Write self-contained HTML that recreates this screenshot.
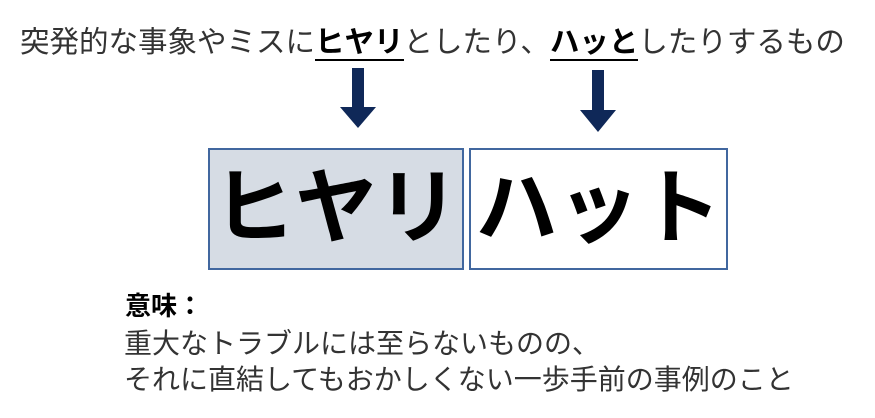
<!DOCTYPE html>
<html><head><meta charset="utf-8"><style>
body{margin:0;width:875px;height:418px;background:#fff;position:relative;overflow:hidden;font-family:"Liberation Sans","Noto Sans CJK JP",sans-serif;}
.t{position:absolute;white-space:nowrap;}
.top{left:20px;top:23px;font-size:29.5px;color:#333;line-height:40px;}
.top b{color:#000;border-bottom:2px solid #000;}
.box{position:absolute;top:148px;height:118px;border:2px solid #41679f;font-weight:bold;font-size:82px;line-height:118px;text-align:center;color:#000;white-space:nowrap;overflow:hidden;}
</style></head><body>
<div class="t top">突発的な事象やミスに<b>ヒヤリ</b>としたり、<b>ハッと</b>したりするもの</div>
<svg width="875" height="418" style="position:absolute;left:0;top:0">
<polygon points="352,68 364,68 364,107 376,107 358,128 340,107 352,107" fill="#0f2858"/>
<polygon points="592,70 604,70 604,110 616,110 598,132 580,110 592,110" fill="#0f2858"/>
</svg>
<div class="box" style="left:208px;width:252px;background:#d6dce4;">ヒヤリ</div>
<div class="box" style="left:469px;width:255px;background:#fff;">ハット</div>
<div class="t" style="left:125px;top:286px;font-size:26px;font-weight:bold;color:#000;">意味：</div>
<div class="t" style="left:124px;top:326px;font-size:28px;color:#333;line-height:36px;">重大なトラブルには至らないものの、<br>それに直結してもおかしくない一歩手前の事例のこと</div>
</body></html>
